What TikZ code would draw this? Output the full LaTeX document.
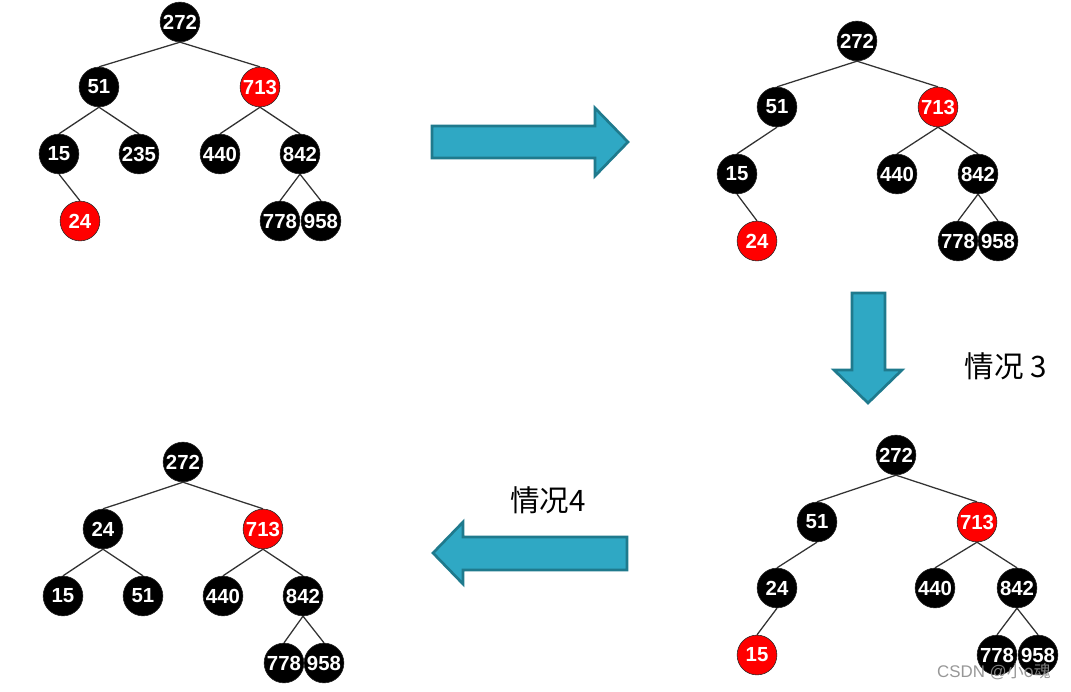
\documentclass[tikz,border=0pt]{standalone}
\usepackage{fontspec}
\setmainfont{Liberation Sans}
\newfontfamily\cjk{Noto Sans CJK SC}
\usepackage{tikz}
\usetikzlibrary{positioning}
\definecolor{arrowfill}{RGB}{47,168,196}
\definecolor{arrowline}{RGB}{31,122,141}
\definecolor{nodered}{RGB}{255,0,0}

\begin{document}
\begin{tikzpicture}[x=0.025cm, y=-0.025cm,
    bn/.style={circle, draw=black!85, fill=black, text=white, minimum size=28.3pt,
      inner sep=0pt, font=\bfseries\fontsize{14.5}{15}\selectfont},
    rn/.style={bn, fill=nodered},
    edge/.style={draw=black!80, line width=0.9pt},
    bigarrow/.style={draw=arrowline, fill=arrowfill, line width=1.9pt, line join=miter},
    case/.style={font=\cjk\fontsize{21}{23}\selectfont}]
  \useasboundingbox (0,0) rectangle (1071,691);
  % Tree 1: insert 24
  \foreach \id/\x/\y/\st in {272/180/22/bn, 51/99/87/bn, 713/260/87/rn, 15/59/154/bn,
      235/139/154/bn, 440/220/154/bn, 842/300/154/bn, 24/80/221/rn,
      778/280/221/bn, 958/321/221/bn}
    \node[\st] (a\id) at (\x,\y) {\id};
  \foreach \p/\c in {272/51, 272/713, 51/15, 51/235, 713/440, 713/842,
      15/24, 842/778, 842/958}
    \draw[edge] (a\p.south) -- (a\c.north);
  % Tree 2: 235 removed
  \foreach \id/\x/\y/\st in {272/857/41/bn, 51/777/107/bn, 713/938/107/rn, 15/737/174/bn,
      440/897/174/bn, 842/978/174/bn, 24/757/241/rn,
      778/958/241/bn, 958/998/241/bn}
    \node[\st] (b\id) at (\x,\y) {\id};
  \foreach \p/\c in {272/51, 272/713, 51/15, 713/440, 713/842,
      15/24, 842/778, 842/958}
    \draw[edge] (b\p.south) -- (b\c.north);
  % Tree 3: after case 3
  \foreach \id/\x/\y/\st in {272/896/455/bn, 51/817/522/bn, 713/977/522/rn, 24/777/588/bn,
      440/935/588/bn, 842/1017/588/bn, 15/757/655/rn,
      778/997/655/bn, 958/1038/655/bn}
    \node[\st] (c\id) at (\x,\y) {\id};
  \foreach \p/\c in {272/51, 272/713, 51/24, 713/440, 713/842,
      24/15, 842/778, 842/958}
    \draw[edge] (c\p.south) -- (c\c.north);
  % Tree 4: after case 4
  \foreach \id/\x/\y/\st in {272/183/462/bn, 24/103/529/bn, 713/263/529/rn, 15/63/596/bn,
      51/143/596/bn, 440/223/596/bn, 842/303/596/bn,
      778/284/663/bn, 958/324/663/bn}
    \node[\st] (d\id) at (\x,\y) {\id};
  \foreach \p/\c in {272/24, 272/713, 24/15, 24/51, 713/440, 713/842,
      842/778, 842/958}
    \draw[edge] (d\p.south) -- (d\c.north);
  % Arrows
  \draw[bigarrow] (432,126) -- (595,126) -- (595,108) -- (628,142) -- (595,176)
    -- (595,158) -- (432,158) -- cycle;
  \draw[bigarrow] (852,293) -- (885,293) -- (885,370) -- (902,370) -- (868,403)
    -- (834,370) -- (852,370) -- cycle;
  \draw[bigarrow] (627,537) -- (463,537) -- (463,522) -- (433,553) -- (463,584)
    -- (463,570) -- (627,570) -- cycle;
  % Labels
  \node[case] (case3) at (1006,366) {情况 3};
  \node[case] (case4) at (548,500) {情况4};
  \node[text=black!45, text opacity=0.9,
    font=\fontsize{12}{12}\selectfont] (mark) at (994,672) {CSDN @{\cjk 小o魂}};
\end{tikzpicture}
\end{document}
